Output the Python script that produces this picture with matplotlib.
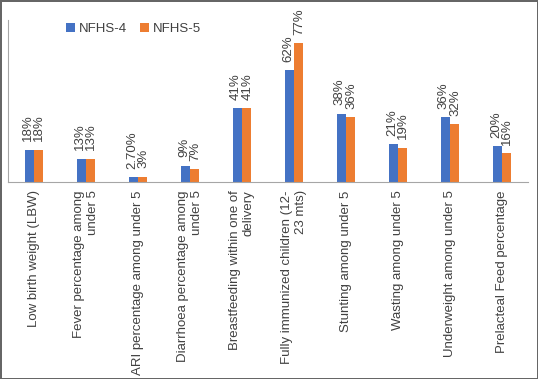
import numpy as np
import matplotlib
matplotlib.use('Agg')
from matplotlib import pyplot as plt

categories = ['Low birth weight (LBW)',
              'Fever percentage among\nunder 5',
              'ARI percentage among under 5',
              'Diarrhoea percentage among\nunder 5',
              'Breastfeeding within one of\ndelivery',
              'Fully immunized children (12-\n23 mts)',
              'Stunting among under 5',
              'Wasting among under 5',
              'Underweight among under 5',
              'Prelacteal Feed percentage']
nfhs4 = [18, 13, 2.7, 9, 41, 62, 38, 21, 36, 20]
nfhs5 = [18, 13, 3, 7, 41, 77, 36, 19, 32, 16]
labels4 = ['18%', '13%', '2.70%', '9%', '41%', '62%', '38%', '21%', '36%', '20%']
labels5 = ['18%', '13%', '3%', '7%', '41%', '77%', '36%', '19%', '32%', '16%']

plt.rcParams['font.family'] = ['Liberation Sans', 'DejaVu Sans']

fig = plt.figure(figsize=(5.38, 3.79), dpi=100)
fig.patch.set_edgecolor('#666666')
fig.patch.set_linewidth(2)
ax = fig.add_axes([8/538, 1-182/379, 520/538, 162/379])

x = np.arange(len(categories))
w = 0.17
b4 = ax.bar(x - w/2, nfhs4, w, color='#4472C4', label='NFHS-4')
b5 = ax.bar(x + w/2, nfhs5, w, color='#ED7D31', label='NFHS-5')

# labels pushed apart a little so they don't collide
for bars, labs, dx in [(b4, labels4, -1.2), (b5, labels5, 0.6)]:
    for bar, lab in zip(bars, labs):
        ax.annotate(lab, (bar.get_x() + bar.get_width()/2, bar.get_height()),
                    xytext=(dx, 6), textcoords='offset points',
                    rotation=90, ha='center', va='bottom', fontsize=9.5,
                    color='#404040')

ax.set_xlim(-0.5, len(categories) - 0.5)
ax.set_ylim(0, 90)
ax.set_yticks([])
ax.set_xticks(x)
ax.set_xticklabels(categories, rotation=90, fontsize=9.5, color='#404040',
                   multialignment='right')
ax.tick_params(axis='x', length=0, pad=6)
for s in ['top', 'right']:
    ax.spines[s].set_visible(False)
for s in ['left', 'bottom']:
    ax.spines[s].set_color('#a6a6a6')

fig.legend(loc='center left', bbox_to_anchor=(66/538, 1-29/379), ncol=2,
           frameon=False, fontsize=9.5, handlelength=0.7, handleheight=0.7,
           handletextpad=0.25, columnspacing=1.0, borderpad=0, borderaxespad=0,
           labelcolor='#404040')

fig.savefig('out.png', dpi=100)
